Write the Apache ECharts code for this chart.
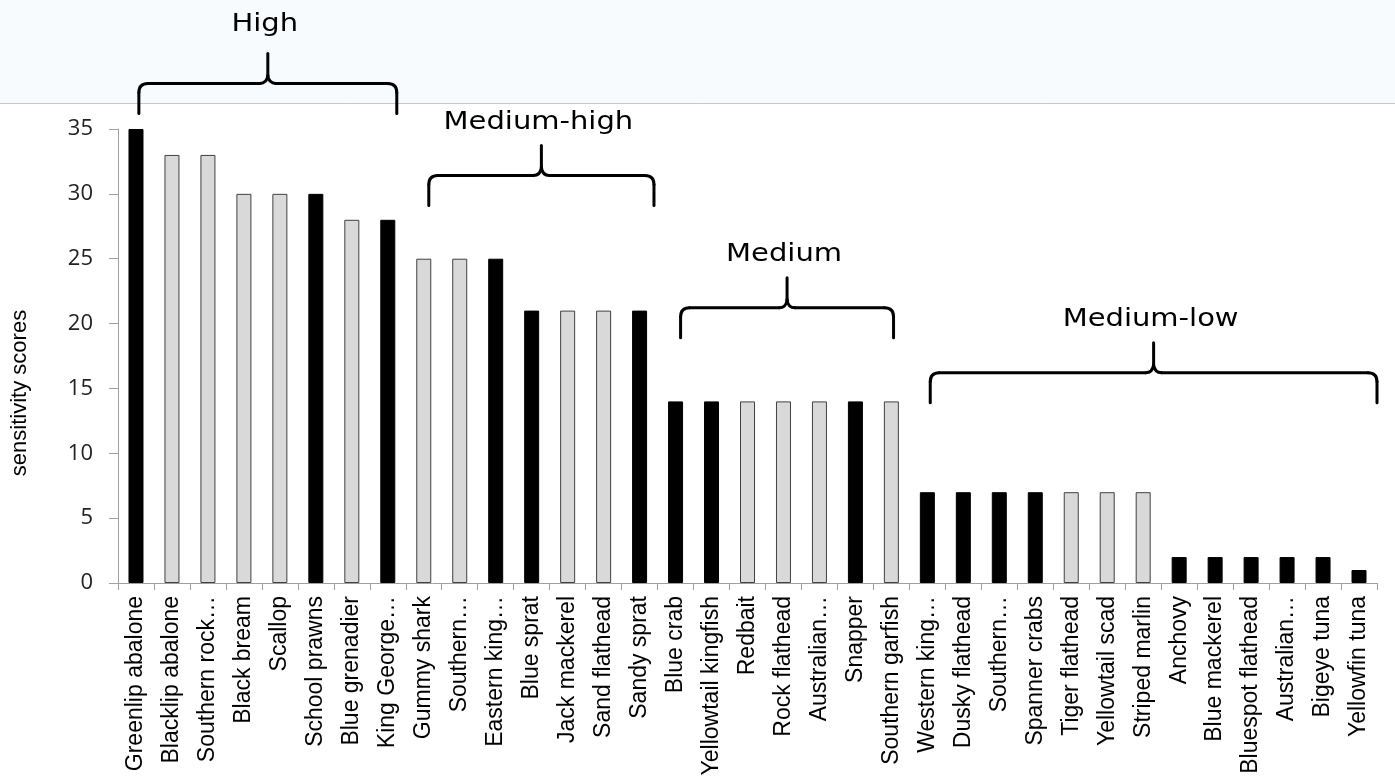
<!DOCTYPE html>
<html>
<head>
<meta charset="utf-8">
<script src="https://cdn.jsdelivr.net/npm/echarts@6/dist/echarts.min.js"></script>
<style>
html,body{margin:0;padding:0;background:#fff;}
#chart{width:1395px;height:779px;}
</style>
</head>
<body>
<div id="chart"></div>
<script>
const categories = [
  'Greenlip abalone','Blacklip abalone','Southern rock…','Black bream','Scallop','School prawns','Blue grenadier','King George…',
  'Gummy shark','Southern…','Eastern king…','Blue sprat','Jack mackerel','Sand flathead','Sandy sprat',
  'Blue crab','Yellowtail kingfish','Redbait','Rock flathead','Australian…','Snapper','Southern garfish',
  'Western king…','Dusky flathead','Southern…','Spanner crabs','Tiger flathead','Yellowtail scad','Striped marlin',
  'Anchovy','Blue mackerel','Bluespot flathead','Australian…','Bigeye tuna','Yellowfin tuna'
];
// black bars
const blackValues = [
  35,'-','-','-','-',30,'-',28,
  '-','-',25,21,'-','-',21,
  14,14,'-','-','-',14,'-',
  7,7,7,7,'-','-','-',
  2,2,2,2,2,1
];
// grey bars
const greyValues = [
  '-',33,33,30,30,'-',28,'-',
  25,25,'-','-',21,21,'-',
  '-','-',14,14,14,'-',14,
  '-','-','-','-',7,7,7,
  '-','-','-','-','-','-'
];
const yTicks = [0,5,10,15,20,25,30,35];
const yAxisTitle = 'sensitivity scores';
const groupLabels = ['High','Medium-high','Medium','Medium-low'];
const groupSpans = [[0.08,7.25],[8.14,14.4],[15.14,21.06],[22.08,34.5]];
const groupLevels = [36.2,29.1,18.9,13.9];

const chart = echarts.init(document.getElementById('chart'));
chart.setOption({
  animation:false,
  backgroundColor:'#ffffff',
  grid:{left:118,right:18,top:129,bottom:196,containLabel:false},
  xAxis:{
    type:'category',
    data:categories,
    axisLine:{lineStyle:{color:'#a0a0a0',width:1}},
    axisTick:{show:true,length:7,lineStyle:{color:'#a0a0a0'}},
    axisLabel:{rotate:90,interval:0,margin:13,fontFamily:'Liberation Sans, Arial',fontSize:23,color:'#000'}
  },
  yAxis:{
    type:'value',min:0,max:35,interval:5,
    axisLine:{show:true,lineStyle:{color:'#a0a0a0',width:1}},
    axisTick:{show:true,length:9,lineStyle:{color:'#a0a0a0'}},
    splitLine:{show:false},
    axisLabel:{margin:25,fontFamily:'Open Sans',fontSize:22,color:'#222',
      formatter:v=>yTicks.includes(v)?String(v):''}
  },
  series:[
    {type:'bar',data:blackValues,barWidth:15,barGap:'-100%',
     itemStyle:{color:'#000000',borderColor:'#000000',borderWidth:1}},
    {type:'bar',data:greyValues,barWidth:15,barGap:'-100%',
     itemStyle:{color:'#d9d9d9',borderColor:'#404040',borderWidth:1}}
  ]
});

function buildGraphics(){
  const c0 = chart.convertToPixel({xAxisIndex:0},0);
  const c1 = chart.convertToPixel({xAxisIndex:0},1);
  const band = c1 - c0;
  const W = chart.getWidth();
  const S = {stroke:'#000',lineWidth:3,fill:null,lineCap:'round'};
  const els = [
    {type:'rect',z:-10,shape:{x:0,y:0,width:W,height:103},style:{fill:'#f7fbfe'},silent:true},
    {type:'line',z:-9,shape:{x1:0,y1:103.5,x2:W,y2:103.5},style:{stroke:'#c4c8cc',lineWidth:1},silent:true},
    {type:'text',z:10,x:20,y:393,rotation:Math.PI/2,
     style:{text:yAxisTitle,fill:'#000',font:'22px "Liberation Sans", Arial',align:'center',verticalAlign:'middle'},silent:true}
  ];
  groupLabels.forEach((lab,i)=>{
    const x0 = c0 + groupSpans[i][0]*band;
    const x1 = c0 + groupSpans[i][1]*band;
    const yb = chart.convertToPixel({yAxisIndex:0},groupLevels[i]);
    const yh = yb - 30;
    const yt = yh - 30;
    const xm = (x0+x1)/2;
    const r = 9;
    const seg = (shape,type)=>els.push({type:type||'line',z:10,shape:shape,style:Object.assign({},S),silent:true});
    seg({x1:x0,y1:yb,x2:x0,y2:yh+r});
    seg({x1:x0,y1:yh+r,x2:x0+r,y2:yh,cpx1:x0,cpy1:yh},'bezierCurve');
    seg({x1:x0+r,y1:yh,x2:xm-8,y2:yh});
    seg({x1:xm-8,y1:yh,x2:xm,y2:yh-8,cpx1:xm-1,cpy1:yh},'bezierCurve');
    seg({x1:xm,y1:yh-8,x2:xm,y2:yt});
    seg({x1:xm,y1:yh-8,x2:xm+8,y2:yh,cpx1:xm+1,cpy1:yh},'bezierCurve');
    seg({x1:xm+8,y1:yh,x2:x1-r,y2:yh});
    seg({x1:x1-r,y1:yh,x2:x1,y2:yh+r,cpx1:x1,cpy1:yh},'bezierCurve');
    seg({x1:x1,y1:yh+r,x2:x1,y2:yb});
    els.push({type:'text',z:10,x:xm-3,y:i===0?yt-29:yt-23,scaleX:1.16,
      style:{text:lab,fill:'#000',font:'25px "DejaVu Sans"',align:'center',verticalAlign:'middle'},silent:true});
  });
  chart.setOption({graphic:{elements:els}});
}
buildGraphics();
</script>
</body>
</html>
